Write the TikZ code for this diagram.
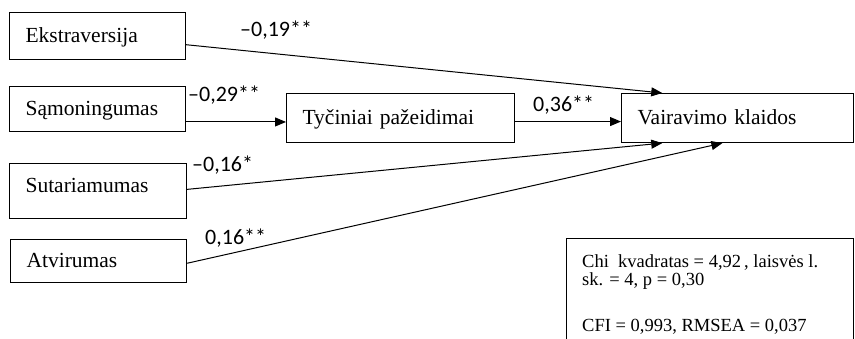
\documentclass[tikz,border=0pt]{standalone}
\usepackage{fontspec}
\setmainfont{Liberation Serif}
\newfontfamily\labfont{Carlito}
\usetikzlibrary{arrows.meta,calc}
\begin{document}
\begin{tikzpicture}[x=1pt,y=-1pt,
  box/.style={draw=black, line width=1.1pt, rectangle, anchor=north west,
    inner xsep=16pt, inner ysep=0pt, align=left, text height=16pt, text depth=4pt,
    font=\fontsize{21.5}{24}\selectfont},
  coef/.style={anchor=west, inner sep=0pt, font=\labfont\fontsize{22}{24}\selectfont},
  conn/.style={draw=black, line width=1pt, -{Triangle[length=11pt,width=9pt]}},
  statline/.style={anchor=base west, inner sep=0pt, font=\fontsize{18.5}{21}\selectfont}]
\useasboundingbox (0,0) rectangle (855,338);
\fill[white] (0,0) rectangle (855,338);

% variable boxes
\node[box, minimum width=176pt, minimum height=47pt, text width=144pt] (ext) at (9,12) {Ekstraversija};
\node[box, minimum width=176pt, minimum height=45pt, text width=144pt] (sam) at (9,86) {Sąmoningumas};
\node[box, minimum width=177pt, minimum height=55pt, text width=145pt, text depth=13pt] (sut) at (9,163) {Sutariamumas};
\node[box, minimum width=176pt, minimum height=43pt, text width=144pt] (atv) at (10,239) {Atvirumas};
\node[box, minimum width=228pt, minimum height=49pt, text width=196pt] (tyc) at (286,93) {Tyčiniai pažeidimai};
\node[box, minimum width=232pt, minimum height=49pt, text width=200pt] (vai) at (621,93) {Vairavimo klaidos};

% connectors
\draw[conn] ($(ext.north east)!0.68!(ext.south east)$) -- ($(vai.north west)!0.177!(vai.north east)$);
\coordinate (s1) at ($(sam.north east)!0.78!(sam.south east)$);
\draw[conn] (s1) -- (s1 -| tyc.west);
\coordinate (t1) at ($(tyc.north east)!0.57!(tyc.south east)$);
\draw[conn] (t1) -- (t1 -| vai.west);
\draw[conn] ($(sut.north east)!0.47!(sut.south east)$) -- ($(vai.south west)!0.177!(vai.south east)$);
\draw[conn] ($(atv.north east)!0.55!(atv.south east)$) -- ($(vai.south west)!0.435!(vai.south east)$);

% coefficients
\node[coef] (c1) at (240,30) {–0,19**};
\node[coef] (c2) at (188,95) {–0,29**};
\node[coef] (c3) at (533,105) {0,36**};
\node[coef] (c4) at (192,165) {–0,16*};
\node[coef] (c5) at (205,238) {0,16**};

% fit statistics
\node[draw=black, line width=1.1pt, anchor=north west, minimum width=287pt,
      minimum height=130pt, inner sep=0pt] (statsbox) at (566,238) {};
\node[statline] (st1) at (582,267) {Chi\ \ kvadratas = 4,92\,, laisvės l.};
\node[statline] (st2) at (582,285) {sk. = 4, p = 0,30};
\node[statline] (st3) at (582,331) {CFI = 0,993, RMSEA = 0,037};
\end{tikzpicture}
\end{document}
